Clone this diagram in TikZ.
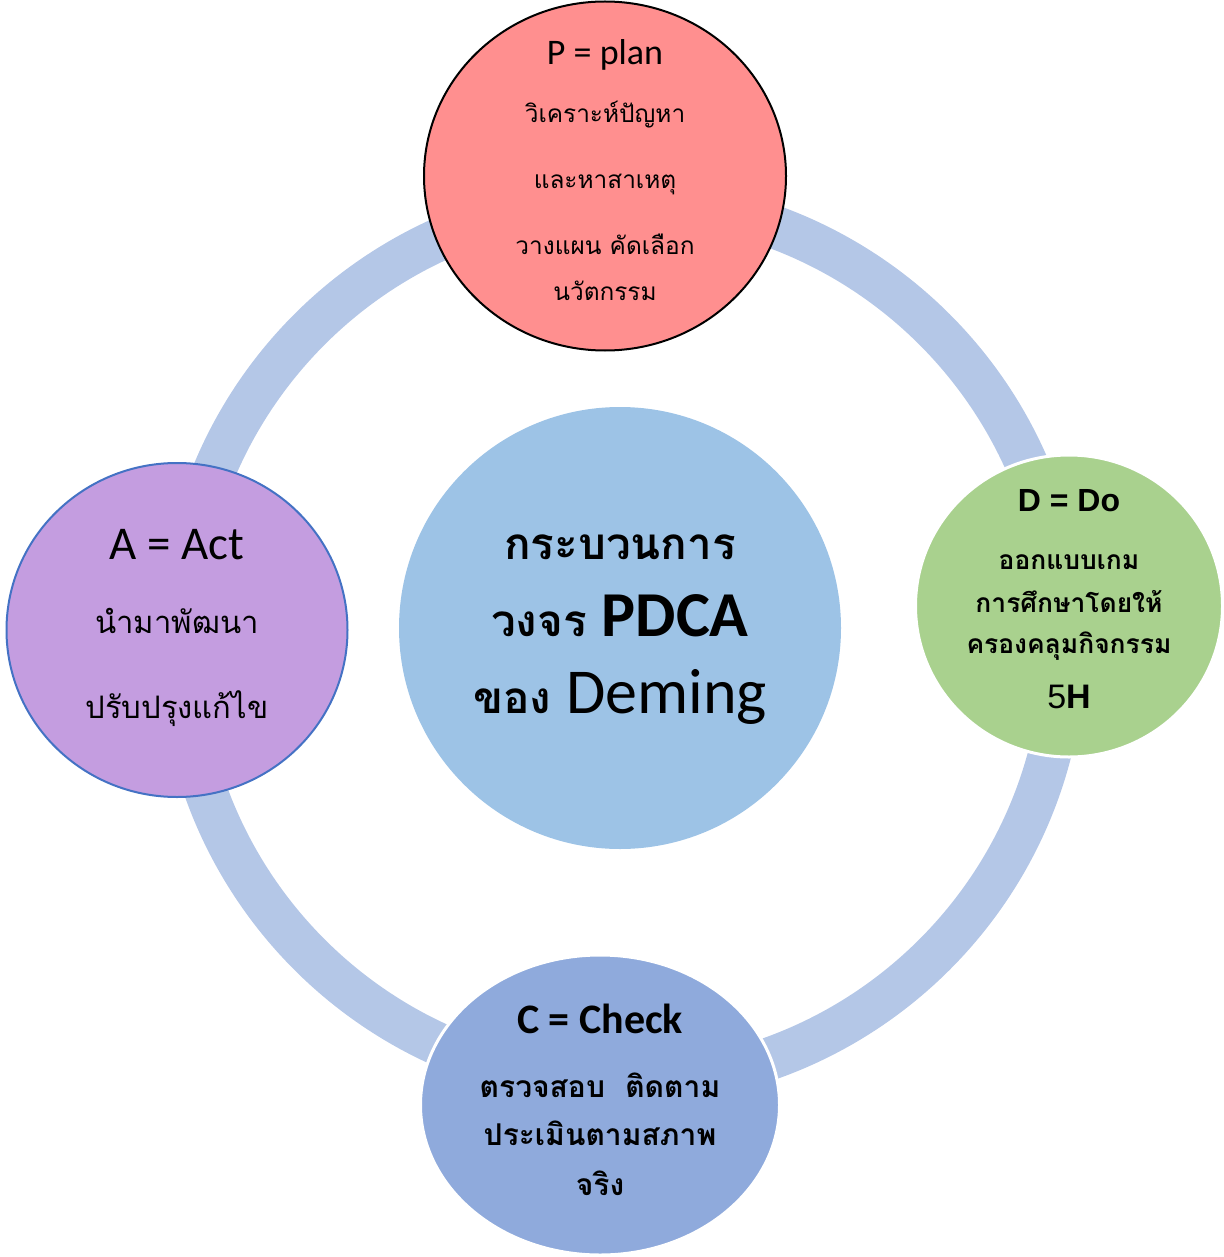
\documentclass[tikz,border=0pt]{standalone}
\usepackage{fontspec}
\setmainfont{Carlito}
\newfontfamily\thaifont[Script=Thai]{Loma}
\newfontfamily\arialfont{Liberation Sans}
\usetikzlibrary{shapes.geometric}

\definecolor{ringblue}{HTML}{B4C7E7}
\definecolor{centreblue}{HTML}{9DC3E6}
\definecolor{planred}{HTML}{FF8F8F}
\definecolor{dogreen}{HTML}{A9D18E}
\definecolor{checkblue}{HTML}{8FAADC}
\definecolor{actpurple}{HTML}{C49DE0}
\definecolor{actedge}{HTML}{4472C4}

\begin{document}
\begin{tikzpicture}[x=0.5pt,y=-0.5pt]

    \def\ringx{622}
    \def\ringy{642}
    \def\ringr{442}

    % Styles
    \tikzstyle{stage}=[ellipse,inner sep=0pt]
    \tikzstyle{label}=[anchor=base,align=center,inner sep=0pt]

    \useasboundingbox (0,0) rectangle (1223,1257);

    % ring
    \draw[ringblue,line width=21.5pt] (\ringx,\ringy) circle [radius=\ringr];

    % centre
    \node[stage,fill=centreblue,minimum size=221pt] (pdca) at (620,628) {};
    \node[label,font=\thaifont\bfseries\fontsize{22}{38.5}\selectfont] (pdcatext) at (620,713)
        {กระบวนการ\\ วงจร {\rmfamily\fontsize{32}{38.5}\selectfont PDCA}\\
         ของ {\rmfamily\mdseries\fontsize{32}{38.5}\selectfont Deming}};

    % plan
    \node[stage,draw=black,line width=1pt,fill=planred,minimum width=181pt,minimum height=174.5pt] (plan) at (605,176) {};
    \node[label,font=\fontsize{18}{20}\selectfont] (plantitle) at (605,65) {P = plan};
    \node[label,font=\thaifont\fontsize{12.2}{33}\selectfont] (plantext) at (605,300)
        {วิเคราะห์ปัญหา\\ และหาสาเหตุ\\ วางแผน คัดเลือก\\[-10pt] นวัตกรรม};

    % do
    \node[stage,draw=white,line width=1.5pt,fill=dogreen,minimum width=153.5pt,minimum height=151pt] (do) at (1069,606) {};
    \node[label,font=\arialfont\bfseries\fontsize{16}{18}\selectfont] (dotitle) at (1069,511) {D = Do};
    \node[label,font=\thaifont\bfseries\fontsize{13.2}{20.5}\selectfont] (dotext) at (1069,708)
        {ออกแบบเกม\\[1pt] การศึกษาโดยให้\\ ครองคลุมกิจกรรม\\[7pt]
         {\arialfont\fontsize{17}{20.5}\selectfont\mdseries 5\bfseries H}};

    % check
    \node[stage,draw=white,line width=1.5pt,fill=checkblue,minimum width=179.5pt,minimum height=150pt] (check) at (600,1105) {};
    \node[label,font=\bfseries\fontsize{21}{24}\selectfont] (checktitle) at (600,1033) {C = Check};
    \node[label,font=\thaifont\bfseries\fontsize{15}{24}\selectfont] (checktext) at (600,1195)
        {ตรวจสอบ~~ติดตาม\\ ประเมินตามสภาพ\\[1pt] จริง};

    % act
    \node[stage,draw=actedge,line width=1pt,fill=actpurple,minimum width=170.5pt,minimum height=167pt] (act) at (177,630) {};
    \node[label,font=\fontsize{23.5}{26}\selectfont] (acttitle) at (177,559) {A = Act};
    \node[label,font=\thaifont\fontsize{15.5}{42.5}\selectfont] (acttext) at (177,718)
        {นำมาพัฒนา\\ ปรับปรุงแก้ไข};

\end{tikzpicture}
\end{document}
